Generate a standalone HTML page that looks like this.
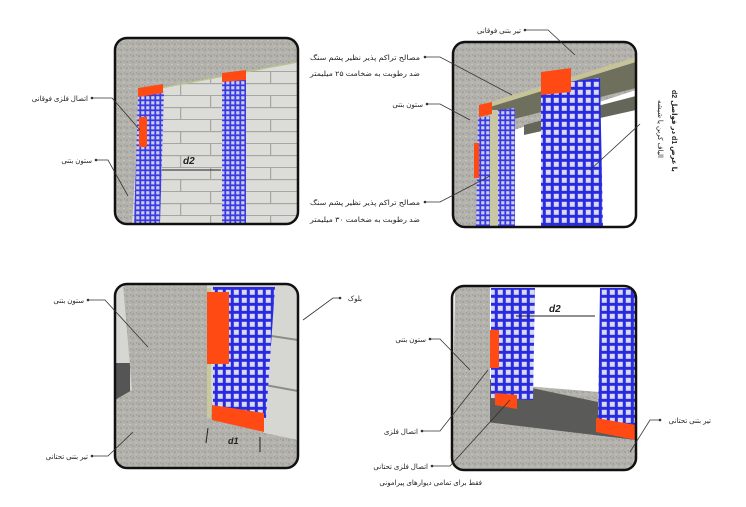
<!DOCTYPE html>
<html><head><meta charset="utf-8"><style>
html,body{margin:0;padding:0;background:#fff;}
svg{display:block}
text{font-family:"Liberation Sans","DejaVu Sans",sans-serif;font-size:7px;fill:#222}
</style></head><body>
<svg width="746" height="507" viewBox="0 0 746 507" xmlns="http://www.w3.org/2000/svg">
<defs>
<pattern id="g" width="5" height="5" patternUnits="userSpaceOnUse"><rect width="5" height="5" fill="#3a3ae0"/><rect x="1.2" y="1.2" width="3.2" height="3.2" fill="#c9cdf0"/></pattern>
<pattern id="gb" width="8" height="8" patternUnits="userSpaceOnUse"><rect width="8" height="8" fill="#2a2adf"/><rect x="1.8" y="1.8" width="5" height="5" fill="#d6d9f2"/></pattern>
<pattern id="c" width="6" height="6" patternUnits="userSpaceOnUse"><rect width="6" height="6" fill="#b3b2ac"/><circle cx="1" cy="2" r=".6" fill="#7d7c76"/><circle cx="4" cy="4.5" r=".6" fill="#d2d1ca"/><circle cx="4.5" cy="1" r=".4" fill="#6c6b66"/></pattern>
<pattern id="br" width="60" height="24" patternUnits="userSpaceOnUse"><rect width="60" height="24" fill="#dcdcd9"/><rect y="11" width="60" height="1.2" fill="#a5a5a1"/><rect y="23" width="60" height="1.2" fill="#a5a5a1"/><rect x="30" width="1.2" height="12" fill="#a5a5a1"/><rect x="0" y="12" width="1.2" height="12" fill="#a5a5a1"/></pattern>
<clipPath id="p1"><rect x="115" y="38" width="183" height="186" rx="12"/></clipPath>
<clipPath id="p2"><rect x="453" y="42" width="183" height="185" rx="12"/></clipPath>
<clipPath id="p3"><rect x="115" y="284" width="183" height="184" rx="12"/></clipPath>
<clipPath id="p4"><rect x="452" y="286" width="184" height="184" rx="12"/></clipPath>
</defs>

<!-- Panel 1 -->
<g clip-path="url(#p1)">
<rect x="115" y="38" width="183" height="186" fill="url(#br)"/>
<polygon points="115,38 298,38 298,62 140,92 132,224 115,224" fill="url(#c)"/>
<line x1="140" y1="92" x2="298" y2="62" stroke="#b7c48a" stroke-width="1.2"/>
<polygon points="138,95 164,91 160,224 134,224" fill="url(#g)"/>
<polygon points="222,80 246,76 246,224 222,224" fill="url(#g)"/>
<polygon points="138,88 163,84 163,93 138,97" fill="#ff4a14"/>
<polygon points="222,73 246,70 246,80 222,82" fill="#ff4a14"/>
<rect x="139" y="117" width="8" height="30" fill="#ff4a14"/>
<line x1="162" y1="170" x2="221" y2="170" stroke="#222" stroke-width="1"/>
<text x="183" y="164" style="font-size:10px;font-weight:bold;font-style:italic">d2</text>
</g>
<rect x="115" y="38" width="183" height="186" rx="12" fill="none" stroke="#111" stroke-width="2.5"/>

<!-- Panel 2 -->
<g clip-path="url(#p2)">
<rect x="453" y="42" width="183" height="185" fill="#fff"/>
<polygon points="453,42 636,42 636,90 453,150" fill="url(#c)"/>
<polygon points="453,95 485,90 485,227 453,227" fill="url(#c)"/>
<polygon points="490,102 636,60 636,88 490,125" fill="#6e6f5c"/>
<polygon points="490,102 636,57 636,62 490,107" fill="#c6c29a"/>
<polygon points="524,125 636,96 636,110 524,135" fill="#65665a"/>
<polygon points="478,118 496,115 494,227 476,227" fill="url(#g)"/>
<rect x="490" y="110" width="8" height="117" fill="#c9c6a4"/>
<polygon points="498,110 515,108 515,227 498,227" fill="url(#g)"/>
<polygon points="541,85 600,78 603,227 541,227" fill="url(#gb)"/>
<polygon points="479,105 492,102 492,114 479,117" fill="#ff4a14"/>
<polygon points="541,72 571,68 571,92 541,95" fill="#ff4a14"/>
<rect x="474" y="143" width="5" height="35" fill="#ff4a14"/>
</g>
<rect x="453" y="42" width="183" height="185" rx="12" fill="none" stroke="#111" stroke-width="2.5"/>

<!-- Panel 3 -->
<g clip-path="url(#p3)">
<rect x="115" y="284" width="183" height="184" fill="#d6d6d3"/>
<rect x="115" y="363" width="15" height="40" fill="#555"/>
<polygon points="123,284 325,284 325,468 115,468 115,400 132,390" fill="url(#c)" />
<polygon points="207,284 298,284 298,440 265,433 212,415" fill="#d6d6d3"/>
<line x1="265" y1="335" x2="298" y2="340" stroke="#8c8c88" stroke-width="2"/>
<line x1="265" y1="385" x2="298" y2="391" stroke="#8c8c88" stroke-width="2"/>
<rect x="207" y="288" width="4" height="130" fill="#c8c89a"/>
<polygon points="213,287 275,287 266,418 213,410" fill="url(#gb)"/>
<rect x="207" y="292" width="22" height="72" fill="#ff4a14"/>
<polygon points="212,405 264,413 264,432 212,420" fill="#ff4a14"/>
<text x="228" y="444" style="font-size:9px;font-weight:bold;font-style:italic">d1</text>
<line x1="208" y1="428" x2="206" y2="443" stroke="#222"/>
<line x1="260" y1="437" x2="260" y2="452" stroke="#222"/>
</g>
<rect x="115" y="284" width="183" height="184" rx="12" fill="none" stroke="#111" stroke-width="2.5"/>

<!-- Panel 4 -->
<g clip-path="url(#p4)">
<rect x="452" y="286" width="184" height="184" fill="#fff"/>
<polygon points="452,380 636,395 636,470 452,470" fill="url(#c)"/>
<polygon points="470,375 636,410 636,440 470,420" fill="#5a5a58"/>
<polygon points="455,286 490,286 490,440 636,470 452,470" fill="url(#c)"/>
<polygon points="491,288 535,288 533,400 491,398" fill="url(#gb)"/>
<polygon points="600,288 636,288 636,430 598,425" fill="url(#gb)"/>
<rect x="490" y="330" width="9" height="38" fill="#ff4a14"/>
<polygon points="495,393 517,395 517,409 495,405" fill="#ff4a14"/>
<polygon points="596,418 636,425 636,440 596,432" fill="#ff4a14"/>
<line x1="516" y1="316" x2="595" y2="316" stroke="#222"/>
<text x="549" y="312" style="font-size:10px;font-weight:bold;font-style:italic">d2</text>
</g>
<rect x="452" y="286" width="184" height="184" rx="12" fill="none" stroke="#111" stroke-width="2.5"/>

<!-- leaders -->
<g stroke="#333" stroke-width=".8" fill="none">
<path d="M92,98 H112 L140,130"/><path d="M96,160 H108 L128,196"/>
<path d="M425,57 H440 L512,95"/>
<path d="M425,202 H440 L490,176"/>
<path d="M525,30 H548 L575,55"/>
<path d="M427,104 H440 L470,120"/>
<path d="M640,124 L590,170"/>
<path d="M88,300 H105 L148,347"/><path d="M92,456 H108 L133,432"/>
<path d="M340,298 L333,298 L303,320"/>
<path d="M430,339 H440 L470,370"/><path d="M422,431 H440 L488,370"/>
<path d="M432,466 H450 L510,400"/><path d="M660,420 H650 L630,452"/>
</g>
<g fill="#333"><circle cx="92" cy="98" r="1.3"/><circle cx="96" cy="160" r="1.3"/><circle cx="425" cy="57" r="1.3"/><circle cx="425" cy="202" r="1.3"/><circle cx="525" cy="30" r="1.3"/><circle cx="427" cy="104" r="1.3"/><circle cx="88" cy="300" r="1.3"/><circle cx="92" cy="456" r="1.3"/><circle cx="340" cy="298" r="1.3"/><circle cx="430" cy="339" r="1.3"/><circle cx="422" cy="431" r="1.3"/><circle cx="432" cy="466" r="1.3"/><circle cx="660" cy="420" r="1.3"/></g>

<!-- labels -->
<g direction="rtl">
<text x="88" y="101">اتصال فلزی فوقانی</text>
<text x="92" y="163">ستون بتنی</text>
<text x="420" y="60" textLength="110" lengthAdjust="spacingAndGlyphs">مصالح تراکم پذیر نظیر پشم سنگ</text>
<text x="420" y="76" textLength="110" lengthAdjust="spacingAndGlyphs">ضد رطوبت به ضخامت ۲۵ میلیمتر</text>
<text x="420" y="205" textLength="110" lengthAdjust="spacingAndGlyphs">مصالح تراکم پذیر نظیر پشم سنگ</text>
<text x="420" y="222" textLength="110" lengthAdjust="spacingAndGlyphs">ضد رطوبت به ضخامت ۳۰ میلیمتر</text>
<text x="521" y="33">تیر بتنی فوقانی</text>
<text x="423" y="107">ستون بتنی</text>
<text x="84" y="303">ستون بتنی</text>
<text x="88" y="459">تیر بتنی تحتانی</text>
<text x="362" y="301">بلوک</text>
<text x="426" y="342">ستون بتنی</text>
<text x="418" y="434">اتصال فلزی</text>
<text x="428" y="469">اتصال فلزی تحتانی</text>
<text x="482" y="485">فقط برای تمامی دیوارهای پیرامونی</text>
<text x="711" y="423">تیر بتنی تحتانی</text>
</g>
<g transform="translate(658,100) rotate(90)"><text x="0" y="0" direction="rtl" text-anchor="end">الیاف کربن یا شیشه</text></g>
<g transform="translate(672,90) rotate(90)"><text x="0" y="0" style="font-weight:bold" direction="rtl" text-anchor="end">با عرض d1 در فواصل d2</text></g>
</svg>
</body></html>
